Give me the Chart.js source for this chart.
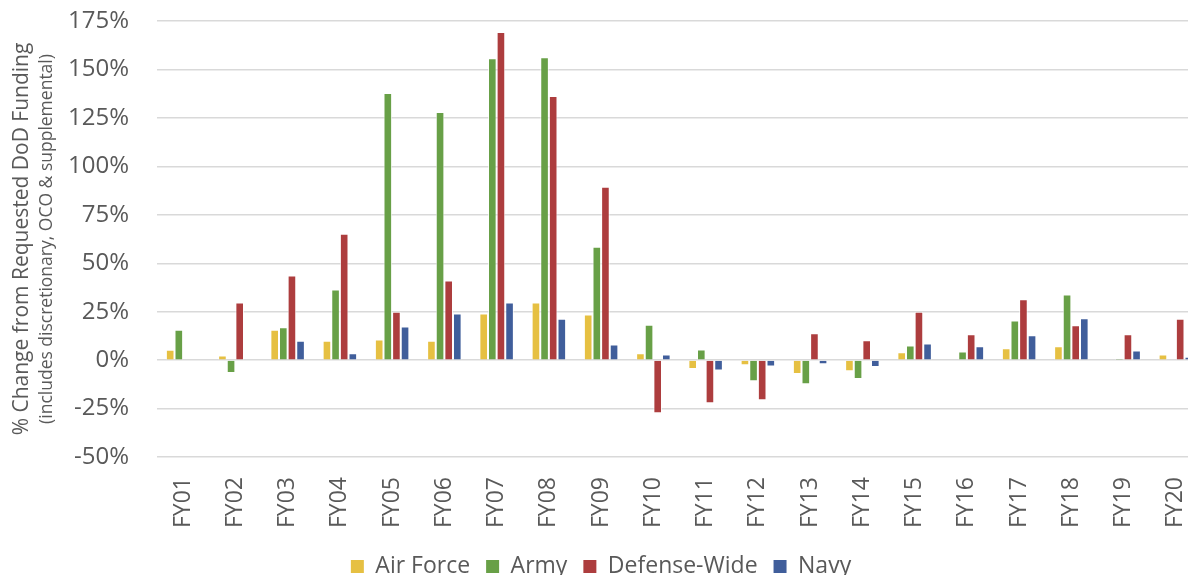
<!DOCTYPE html>
<html>
<head>
<meta charset="utf-8">
<script src="https://cdn.jsdelivr.net/npm/chart.js@4.4.1/dist/chart.umd.min.js"></script>
<style>
  html, body { margin: 0; padding: 0; background: #fff; overflow: hidden; }
  /* el grafico original esta recortado a la derecha y abajo: el lienzo es algo mas grande */
  #wrap { width: 1202px; height: 588px; position: relative; }
</style>
</head>
<body>
<div id="wrap"><canvas id="grafico"></canvas></div>
<script>
// datos (% de cambio)
const anios = ["FY01","FY02","FY03","FY04","FY05","FY06","FY07","FY08","FY09","FY10",
               "FY11","FY12","FY13","FY14","FY15","FY16","FY17","FY18","FY19","FY20"];

const airForce    = [5.4, 2.4, 15.7, 10, 10.7, 10, 24, 29.7, 23.5, 3.5,
                     -4.6, -2.6, -7.2, -5.7, 4, 0, 6.1, 7.1, 0, 2.9];
const army        = [15.7, -6.7, 16.9, 36.4, 137.9, 128, 155.8, 156.3, 58.5, 18.3,
                     5.5, -10.9, -12.4, -9.8, 7.6, 4.5, 20.5, 33.8, 0.7, 0];
const defenseWide = [0, 29.7, 43.7, 65.2, 25, 41.1, 169.3, 136.3, 89.4, -27.4,
                     -22.2, -20.7, 13.8, 10.2, 25, 13.3, 31.4, 18, 13.3, 21.4];
const navy        = [0, 0, 10, 3.5, 17.4, 24, 29.7, 21.4, 8.1, 2.9,
                     -5.3, -3.3, -2.1, -3.6, 8.6, 7.1, 12.8, 21.6, 5, 1.7];

const ticksY = [-50, -25, 0, 25, 50, 75, 100, 125, 150, 175];

const FUENTE = "'Open Sans', 'DejaVu Sans', sans-serif";
const GRIS = "#595959";

// titulo del eje Y en dos lineas de distinto tamaño
const tituloY = {
    id: "tituloY",
    afterDraw(chart) {
        const ctx = chart.ctx;
        const a = chart.chartArea;
        const cy = (a.top + a.bottom) / 2;
        ctx.save();
        ctx.fillStyle = GRIS;
        ctx.textAlign = "center";
        ctx.textBaseline = "middle";
        ctx.translate(22, cy);
        ctx.rotate(-Math.PI / 2);
        ctx.font = "21px " + FUENTE;
        ctx.fillText("% Change from Requested DoD Funding", 0, 0);
        ctx.font = "17.5px " + FUENTE;
        ctx.fillText("(includes discretionary, OCO & supplemental)", 0, 25);
        ctx.restore();
    }
};

const serie = (label, data, color) => ({
    label, data,
    backgroundColor: color,
    borderColor: "rgba(255,255,255,0.7)",
    borderWidth: 1,
    categoryPercentage: 0.66,
    barPercentage: 1.0
});

new Chart(document.getElementById("grafico"), {
    type: "bar",
    data: {
        labels: anios,
        datasets: [
            serie("Air Force", airForce, "#E6C042"),
            serie("Army", army, "#68A047"),
            serie("Defense-Wide", defenseWide, "#AD3D3E"),
            serie("Navy", navy, "#405E9B")
        ]
    },
    options: {
        responsive: true,
        maintainAspectRatio: false,
        animation: false,
        layout: { padding: { top: 21, right: 0, bottom: 0, left: 0 } },
        plugins: {
            tooltip: { enabled: false },
            legend: {
                position: "bottom",
                labels: {
                    font: { family: FUENTE, size: 23 },
                    color: GRIS,
                    boxWidth: 13,
                    boxHeight: 13,
                    padding: 16,
                    generateLabels(chart) {
                        return chart.data.datasets.map((d, i) => ({
                            text: d.label,
                            fillStyle: d.backgroundColor,
                            strokeStyle: d.backgroundColor,
                            lineWidth: 0,
                            fontColor: GRIS,
                            datasetIndex: i,
                            hidden: false
                        }));
                    }
                }
            }
        },
        scales: {
            x: {
                grid: { display: false, drawTicks: false },
                border: { display: false },
                ticks: {
                    color: GRIS,
                    font: { family: FUENTE, size: 23 },
                    minRotation: 90,
                    maxRotation: 90,
                    padding: 20
                },
                afterFit(s) {
                    s.height = 82;
                    s.paddingLeft = 0;
                    s.paddingRight = 0;
                }
            },
            y: {
                min: -50,
                max: 175,
                afterBuildTicks(s) { s.ticks = ticksY.map(v => ({ value: v })); },
                grid: { color: "#d9d9d9", lineWidth: 1.4, drawTicks: false },
                border: { display: false },
                ticks: {
                    color: GRIS,
                    font: { family: FUENTE, size: 24 },
                    padding: 28,
                    callback: v => v + "%"
                },
                afterFit(s) {
                    s.width = 157;
                    s.paddingTop = 0;
                    s.paddingBottom = 0;
                }
            }
        }
    },
    plugins: [tituloY]
});
</script>
</body>
</html>
